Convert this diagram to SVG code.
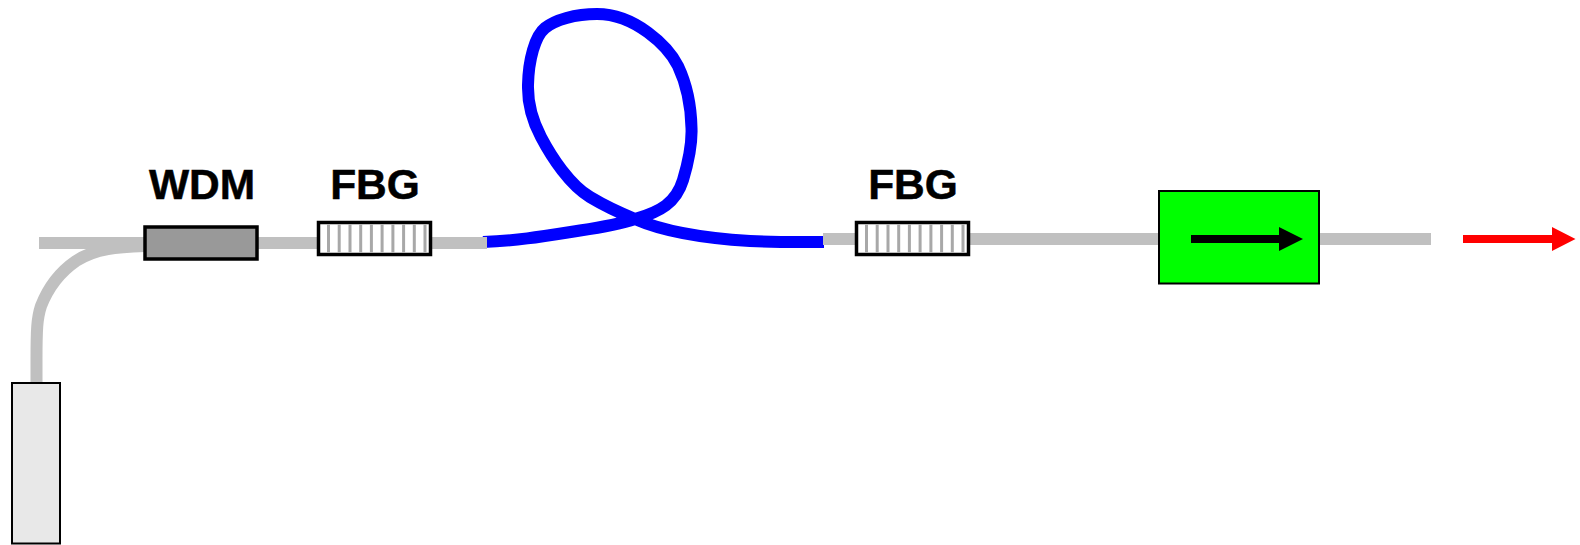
<svg xmlns="http://www.w3.org/2000/svg" width="1580" height="545" viewBox="0 0 1580 545">
<style>
.fib{fill:none;stroke:#c0c0c0;stroke-width:12}
.blue{fill:none;stroke:#0000ff;stroke-width:12}
.lbl{font-family:"Liberation Sans",Arial,sans-serif;font-weight:700;font-size:42.5px;fill:#000;stroke:#000;stroke-width:.5;text-anchor:middle}
.fbgbox{fill:#fff;stroke:#000;stroke-width:3.5}
.tick{stroke:#a8a8a8;stroke-width:3}
</style>
<defs>
<g id="fbgshape">
<rect class="fbgbox" x="0" y="0" width="112" height="32"/>
<path class="tick" d="M10 2V30M20.700 2V30M31.500 2V30M42.200 2V30M52.900 2V30M63.600 2V30M74.400 2V30M85.100 2V30M95.800 2V30M106.500 2V30"/>
</g>
</defs>
<g id="connectors">
<path class="blue" d="M483 242C520 240.500 545 236 580 230.500C600 227.500 620 224 635 219C660 212 676 203 683 180C689 160 692 140 691.500 128C691 105 687 85 678 66C668 46 635 14 597 14C575 14 555 20 545 28C535 36 528.500 60 528 85C527.500 105 532 120 541 137C552 158 570 185 590 197C605 206 620 213 635 219C660 230 700 238 750 241C780 242.500 800 242 824 242"/>
<path class="fib" d="M39 243H487"/>
<path class="fib" d="M36.500 384V360C36.500 330 37 318 41 306C48 288 60 272 76 261C96 248 118 247 145 246"/>
<path class="fib" d="M823 239H1431"/>
</g>
<g id="wdm">
<rect x="145" y="227" width="112" height="32" fill="#999" stroke="#000" stroke-width="3.500"/>
<text class="lbl" x="202" y="199">WDM</text>
</g>
<g id="fbg1">
<use href="#fbgshape" x="318.500" y="222.500"/>
<text class="lbl" x="375" y="199">FBG</text>
</g>
<g id="fbg2">
<use href="#fbgshape" x="856.500" y="222.500"/>
<text class="lbl" x="913" y="199">FBG</text>
</g>
<g id="source">
<rect x="12" y="383" width="48" height="160.500" fill="#e8e8e8" stroke="#000" stroke-width="2"/>
</g>
<g id="isolator">
<rect x="1159" y="191" width="160" height="92.500" fill="#00ff00" stroke="#000" stroke-width="2"/>
<path d="M1191 235H1279V227L1303 239L1279 251V243H1191Z" fill="#000"/>
</g>
<g id="output">
<path d="M1463 235H1552V227L1575.500 239L1552 251V243H1463Z" fill="#ff0000"/>
</g>
</svg>
